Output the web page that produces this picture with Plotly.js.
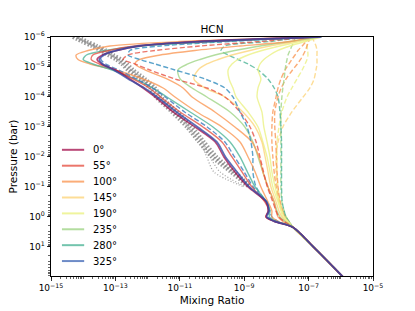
<!DOCTYPE html>
<html>
<head>
<meta charset="utf-8">
<script src="https://cdn.plot.ly/plotly-3.0.1.min.js"></script>
<style>html,body{margin:0;padding:0;background:#fff;}#chart{width:415px;height:311px;}</style>
</head>
<body>
<div id="chart"></div>
<script>
// pressure levels, log10(bar)
const logP = [-6,-5.85,-5.7,-5.55,-5.4,-5.25,-5.1,-4.9,-4.6,-4.3,-4,-3.5,-3,-2.5,-2,-1.5,-1,-0.5,-0.2,0,0.15,0.35,1,2];

// longitude labels (legend)
const longitudes = ['0°','55°','100°','145°','190°','235°','280°','325°'];

// log10 HCN mixing ratio, solid profiles
const sol0   = [-6.65,-10.5,-12.24,-12.95,-13.4,-13.57,-13.42,-13.0,-12.55,-12.14,-11.77,-11.21,-10.53,-9.9,-9.63,-9.29,-8.88,-8.32,-8.26,-8.32,-8.07,-7.48,-6.85,-5.93];
const sol55  = [-6.7,-10.2,-12.4,-13.2,-13.7,-13.75,-13.5,-13.0,-12.45,-11.95,-11.6,-10.99,-10.28,-9.69,-9.38,-9.07,-8.76,-8.36,-8.24,-8.33,-8.05,-7.48,-6.85,-5.93];
const sol100 = [-6.8,-10.99,-13.17,-13.85,-14.22,-14.16,-13.79,-13.0,-12.14,-11.52,-11.15,-10.47,-9.69,-9.13,-8.88,-8.66,-8.48,-8.26,-8.14,-8.14,-7.95,-7.48,-6.85,-5.93];
const sol145 = [-6.75,-7.42,-8.2,-8.82,-9.38,-9.81,-10.16,-10.43,-10.56,-10.22,-9.6,-9.04,-8.66,-8.45,-8.35,-8.26,-8.17,-8.01,-7.92,-7.83,-7.7,-7.48,-6.85,-5.93];
const sol190 = [-6.7,-7.27,-7.89,-8.45,-8.88,-9.19,-9.38,-9.5,-9.47,-9.35,-9.25,-8.88,-8.57,-8.42,-8.29,-8.2,-8.11,-7.95,-7.86,-7.8,-7.67,-7.48,-6.85,-5.93];
const sol235 = [-6.7,-7.58,-8.51,-9.29,-9.91,-10.37,-10.75,-11.06,-10.99,-10.62,-10.16,-9.44,-8.98,-8.73,-8.57,-8.42,-8.26,-8.07,-7.98,-7.89,-7.73,-7.48,-6.85,-5.93];
const sol280 = [-6.7,-9.8,-12.2,-13.3,-13.9,-14.0,-13.7,-13.1,-12.4,-11.85,-11.4,-10.68,-9.97,-9.44,-9.13,-8.9,-8.66,-8.3,-8.2,-8.22,-8.0,-7.48,-6.85,-5.93];
const sol325 = [-6.6,-10.3,-12.3,-12.95,-13.35,-13.5,-13.4,-13.05,-12.6,-12.1,-11.7,-11.1,-10.45,-9.85,-9.58,-9.22,-8.84,-8.3,-8.24,-8.3,-8.05,-7.48,-6.85,-5.93];
// extra solid profiles
const sol100b = [-6.9,-7.58,-9.13,-10.53,-11.61,-12.24,-12.39,-12.08,-11.4,-10.9,-10.62,-9.91,-9.29,-8.76,-8.54,-8.42,-8.26,-8.07,-8.01,-7.95,-7.8,-7.48,-6.85,-5.93];
const sol190b = [-6.6,-7.11,-7.58,-7.95,-8.2,-8.39,-8.51,-8.57,-8.48,-8.57,-8.6,-8.45,-8.39,-8.29,-8.2,-8.14,-8.04,-7.92,-7.83,-7.76,-7.64,-7.48,-6.85,-5.93];

// log10 HCN mixing ratio, dashed profiles
const dsh0   = [-6.8,-10.0,-12.3,-13.0,-13.4,-13.45,-13.3,-12.9,-12.35,-11.85,-11.45,-10.85,-10.15,-9.6,-9.3,-9.0,-8.72,-8.33,-8.22,-8.28,-8.03,-7.48,-6.85,-5.93];
const dsh55  = [-6.9,-8.51,-10.37,-11.77,-12.61,-12.76,-12.39,-11.93,-11.15,-10.16,-9.6,-9.13,-8.82,-8.63,-8.51,-8.4,-8.28,-8.11,-8.01,-7.92,-7.76,-7.48,-6.85,-5.93];
const dsh100 = [-6.95,-7.08,-7.2,-7.33,-7.42,-7.52,-7.61,-7.73,-7.86,-7.95,-8.01,-8.11,-8.14,-8.14,-8.11,-8.07,-8.01,-7.92,-7.83,-7.73,-7.64,-7.48,-6.85,-5.93];
const dsh100b= [-6.95,-7.0,-7.05,-7.1,-7.17,-7.25,-7.35,-7.5,-7.7,-7.85,-7.95,-8.05,-8.05,-8.02,-8.0,-7.98,-7.95,-7.88,-7.8,-7.72,-7.63,-7.48,-6.85,-5.93];
const dsh145 = [-6.9,-6.83,-6.77,-6.74,-6.74,-6.74,-6.74,-6.77,-6.83,-6.96,-7.17,-7.52,-7.8,-7.95,-8.01,-8.01,-7.98,-7.89,-7.8,-7.7,-7.61,-7.48,-6.85,-5.93];
const dsh190 = [-7.11,-7.08,-7.05,-7.03,-7.02,-7.05,-7.11,-7.2,-7.36,-7.52,-7.67,-7.83,-7.92,-7.98,-7.98,-7.98,-7.95,-7.89,-7.8,-7.7,-7.61,-7.48,-6.85,-5.93];
const dsh235 = [-7.42,-7.45,-7.52,-7.58,-7.64,-7.67,-7.7,-7.73,-7.76,-7.8,-7.83,-7.86,-7.86,-7.86,-7.86,-7.86,-7.86,-7.83,-7.76,-7.7,-7.61,-7.48,-6.85,-5.93];
const dsh280 = [-7.1,-8.2,-9.6,-9.72,-9.5,-9.19,-8.88,-8.57,-8.26,-8.07,-7.95,-7.89,-7.86,-7.84,-7.84,-7.84,-7.84,-7.82,-7.76,-7.7,-7.61,-7.48,-6.85,-5.93];
const dsh325 = [-6.9,-9.44,-11.61,-12.55,-12.61,-12.24,-11.77,-11.15,-10.22,-9.6,-9.35,-9.13,-8.91,-8.79,-8.73,-8.73,-8.63,-8.32,-8.2,-8.14,-7.95,-7.48,-6.85,-5.93];

// log10 mixing ratio, grey reference profiles (end near 0.1 bar)
const grey1 = [-14.32,-14.04,-13.73,-13.45,-13.23,-12.98,-12.8,-12.61,-12.24,-11.93,-11.74,-11.24,-10.78,-10.4,-10.0,-9.41,-8.85,null,null,null,null,null,null,null];
const grey2 = [-14.16,-13.88,-13.57,-13.29,-13.07,-12.82,-12.64,-12.45,-12.08,-11.77,-11.58,-11.08,-10.62,-10.25,-9.86,-9.3,-8.8,null,null,null,null,null,null,null];
const grey3 = [-14.3,-14.0,-13.7,-13.4,-13.2,-12.95,-12.78,-12.6,-12.22,-11.9,-11.7,-11.2,-10.75,-10.38,-10.16,-9.94,-9.0,null,null,null,null,null,null,null];
const grey4 = [-14.2,-13.9,-13.6,-13.3,-13.1,-12.85,-12.68,-12.5,-12.12,-11.8,-11.6,-11.12,-10.68,-10.3,-10.06,-9.75,-8.95,null,null,null,null,null,null,null];

const P = logP.map(v => Math.pow(10, v));
const toX = arr => arr.map(v => v === null ? null : Math.pow(10, v));

const colorList = [
  'rgba(158,1,66,0.72)',
  'rgba(228,72,58,0.75)',
  'rgba(250,150,82,0.78)',
  'rgba(253,212,120,0.78)',
  'rgba(236,242,140,0.85)',
  'rgba(160,212,135,0.8)',
  'rgba(75,180,150,0.78)',
  'rgba(60,100,180,0.75)'
];
const colors = {};
longitudes.forEach((k, i) => { colors[k] = colorList[i]; });

function tr(arr, key, dash, width, color) {
  return {
    x: toX(arr), y: P, type: 'scatter', mode: 'lines',
    name: key, showlegend: false,
    line: {color: color || colors[key], width: width, dash: dash, shape: 'spline', smoothing: 0.8},
    hoverinfo: 'skip'
  };
}

const greyCol = 'rgba(120,120,120,0.75)';
const D = '5px,2.5px';
const traces = [
  tr(grey1, 'g1', '1.5px,1.8px', 4, greyCol),
  tr(grey2, 'g2', '1.5px,1.8px', 4, greyCol),
  tr(grey3, 'g3', '1px,2px', 1.3, 'rgba(140,140,140,0.8)'),
  tr(grey4, 'g4', '1px,2px', 1.3, 'rgba(140,140,140,0.8)'),
  tr(dsh190, '190°', D, 1.4),
  tr(dsh145, '145°', D, 1.4),
  tr(dsh100b,'100°', D, 1.4),
  tr(dsh100, '100°', D, 1.4),
  tr(dsh235, '235°', D, 1.4),
  tr(dsh280, '280°', D, 1.4),
  tr(sol190b,'190°', 'solid', 1.4),
  tr(sol190, '190°', 'solid', 1.4),
  tr(sol145, '145°', 'solid', 1.4),
  tr(sol235, '235°', 'solid', 1.4),
  tr(sol100b,'100°', 'solid', 1.4),
  tr(dsh55,  '55°',  D, 1.4),
  tr(dsh325, '325°', D, 1.4, 'rgba(50,140,190,0.8)'),
  tr(sol100, '100°', 'solid', 1.4),
  tr(sol280, '280°', 'solid', 1.4),
  tr(dsh0,   '0°',   D, 1.4, 'rgba(60,120,190,0.8)'),
  tr(sol55,  '55°',  'solid', 1.4),
  tr(sol0,   '0°',   'solid', 1.6),
  tr(sol325, '325°', 'solid', 1.8, 'rgba(55,75,165,0.8)')
];

// hand-made legend (compact spacing as in the reference)
const font = 'DejaVu Sans, sans-serif';
const legX0 = 0.034, legX1 = 0.103, legTxt = 0.125, legTop = 0.528, legStep = 0.0665;
const shapes = [], annotations = [];
longitudes.forEach((k, i) => {
  const yy = legTop - i * legStep;
  shapes.push({type: 'line', xref: 'paper', yref: 'paper', x0: legX0, x1: legX1, y0: yy, y1: yy,
               line: {color: colorList[i], width: 2}});
  annotations.push({xref: 'paper', yref: 'paper', x: legTxt, y: yy, xanchor: 'left', yanchor: 'middle',
                    text: k, showarrow: false, font: {family: font, size: 10, color: '#000'}});
});

const xTicks = [-15,-13,-11,-9,-7,-5].map(e => Math.pow(10, e));
const xLabels = ['10<sup>−15</sup>','10<sup>−13</sup>','10<sup>−11</sup>','10<sup>−9</sup>','10<sup>−7</sup>','10<sup>−5</sup>'];
const yTicks = [-6,-5,-4,-3,-2,-1,0,1].map(e => Math.pow(10, e));
const yLabels = ['10<sup>−6</sup>','10<sup>−5</sup>','10<sup>−4</sup>','10<sup>−3</sup>','10<sup>−2</sup>','10<sup>−1</sup>','10<sup>0</sup>','10<sup>1</sup>'];

const layout = {
  width: 415, height: 311,
  margin: {l: 51, r: 42, t: 37, b: 35},
  paper_bgcolor: '#fff', plot_bgcolor: '#fff',
  font: {family: font, size: 9, color: '#000'},
  title: {text: 'HCN', font: {family: font, size: 10.5, color: '#000'}, x: 0.5, xref: 'paper', y: 1, yref: 'paper', yanchor: 'bottom', pad: {b: 4}},
  showlegend: false,
  shapes: shapes,
  annotations: annotations,
  xaxis: {
    type: 'log', range: [-15, -5], tickmode: 'array', tickvals: xTicks, ticktext: xLabels,
    ticks: 'outside', ticklen: 3.5, tickwidth: 0.8, tickcolor: '#000',
    showline: true, linecolor: '#000', linewidth: 1, mirror: true, showgrid: false, zeroline: false,
    minor: {ticks: 'outside', ticklen: 2, tickwidth: 0.6, tickcolor: '#000', dtick: 'D1', showgrid: false},
    tickfont: {family: font, size: 9},
    title: {text: 'Mixing Ratio', font: {family: font, size: 10.5}, standoff: 4}
  },
  yaxis: {
    type: 'log', range: [1.97, -6], tickmode: 'array', tickvals: yTicks, ticktext: yLabels,
    ticks: 'outside', ticklen: 3.5, tickwidth: 0.8, tickcolor: '#000',
    showline: true, linecolor: '#000', linewidth: 1, mirror: true, showgrid: false, zeroline: false,
    minor: {ticks: 'outside', ticklen: 2, tickwidth: 0.6, tickcolor: '#000', dtick: 'D1', showgrid: false},
    tickfont: {family: font, size: 9},
    title: {text: 'Pressure (bar)', font: {family: font, size: 10.5}, standoff: 4}
  }
};

Plotly.newPlot('chart', traces, layout, {displayModeBar: false, staticPlot: true});
</script>
</body>
</html>
